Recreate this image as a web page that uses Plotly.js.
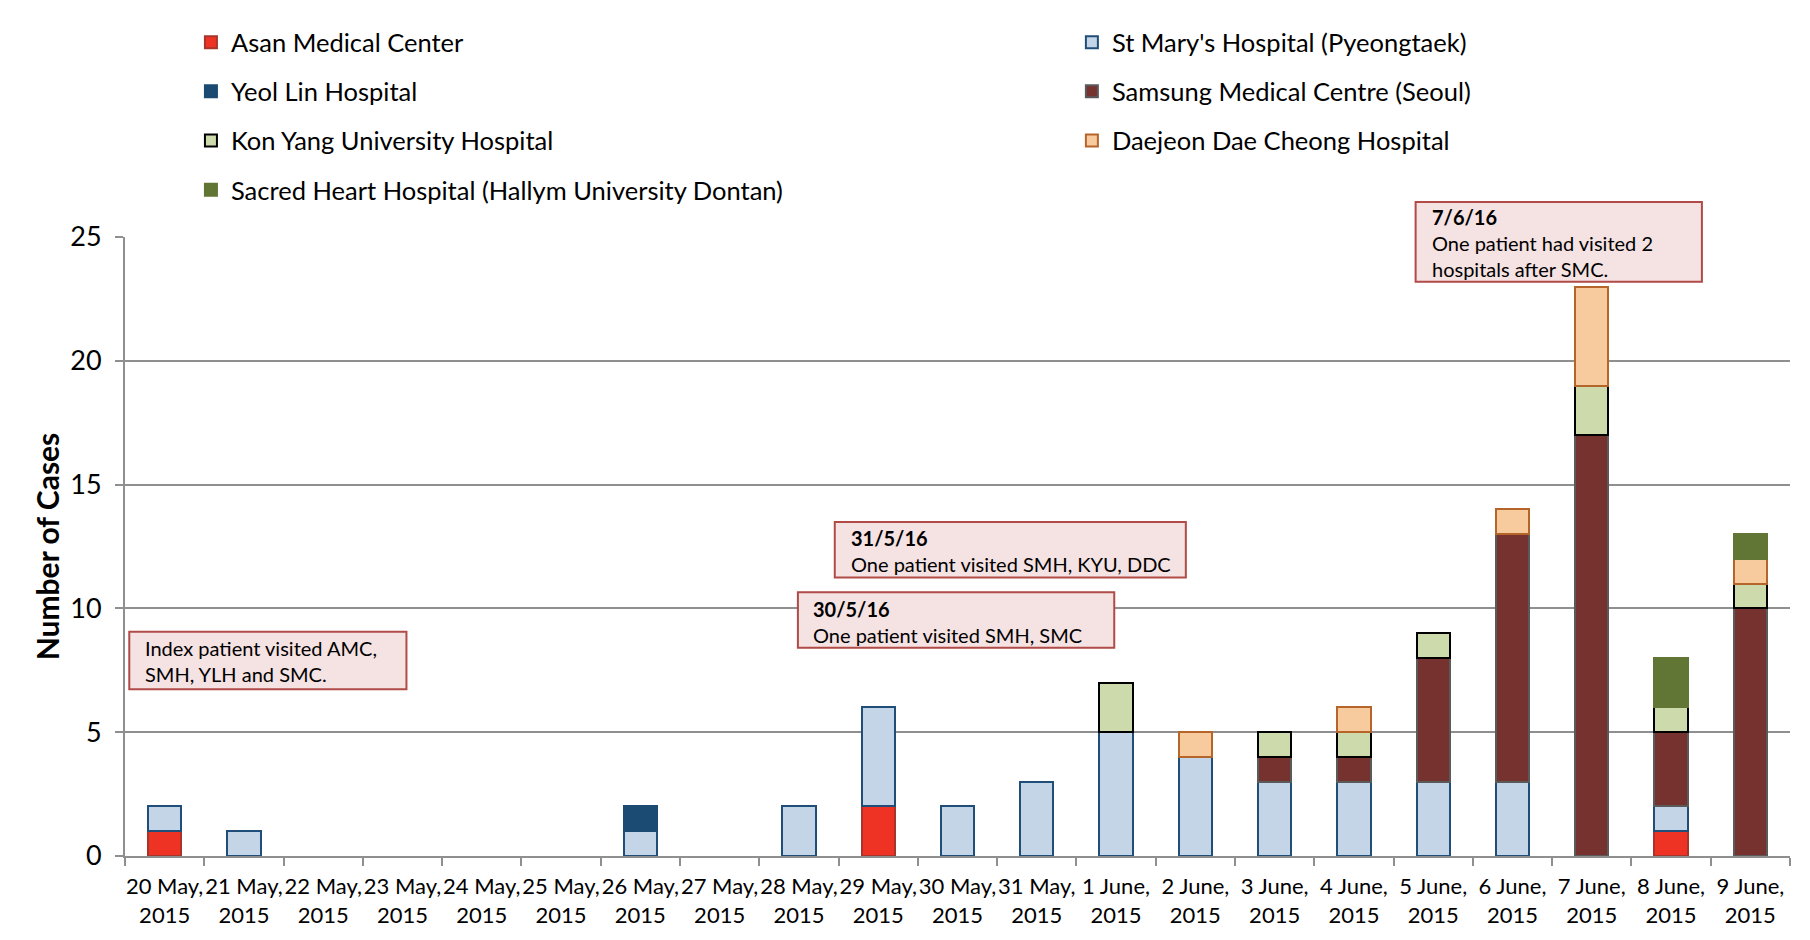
<!DOCTYPE html>
<html>
<head>
<meta charset="utf-8">
<script src="https://cdn.plot.ly/plotly-3.0.1.min.js"></script>
<style>html,body{margin:0;padding:0;background:#fff;}#chart{width:1810px;height:940px;}</style>
</head>
<body>
<div id="chart"></div>
<script>
const dates = ["20 May","21 May","22 May","23 May","24 May","25 May","26 May","27 May","28 May","29 May","30 May","31 May","1 June","2 June","3 June","4 June","5 June","6 June","7 June","8 June","9 June"];
const tickLabels = ["20 May,<br>2015","21 May,<br>2015","22 May,<br>2015","23 May,<br>2015","24 May,<br>2015","25 May,<br>2015","26 May,<br>2015","27 May,<br>2015","28 May,<br>2015","29 May,<br>2015","30 May,<br>2015","31 May,<br>2015","1 June,<br>2015","2 June,<br>2015","3 June,<br>2015","4 June,<br>2015","5 June,<br>2015","6 June,<br>2015","7 June,<br>2015","8 June,<br>2015","9 June,<br>2015"];

const asan      = [1,0,0,0,0,0,0,0,0,2,0,0,0,0,0,0,0,0,0,1,0];
const stMarys   = [1,1,0,0,0,0,1,0,2,4,2,3,5,4,3,3,3,3,0,1,0];
const yeolLin   = [0,0,0,0,0,0,1,0,0,0,0,0,0,0,0,0,0,0,0,0,0];
const samsung   = [0,0,0,0,0,0,0,0,0,0,0,0,0,0,1,1,5,10,17,3,10];
const konYang   = [0,0,0,0,0,0,0,0,0,0,0,0,2,0,1,1,1,0,2,1,1];
const daejeon   = [0,0,0,0,0,0,0,0,0,0,0,0,0,1,0,1,0,1,4,0,1];
const sacred    = [0,0,0,0,0,0,0,0,0,0,0,0,0,0,0,0,0,0,0,2,1];

const seriesNames = ["Asan Medical Center","St Mary's Hospital (Pyeongtaek)","Yeol Lin Hospital","Samsung Medical Centre (Seoul)","Kon Yang University Hospital","Daejeon Dae Cheong Hospital","Sacred Heart Hospital (Hallym University Dontan)"];
const seriesValues = [asan, stMarys, yeolLin, samsung, konYang, daejeon, sacred];
const fills = ["#EE3224","#C5D5E8","#1B4A72","#76322F","#CDDAAC","#F8CB9F","#617535"];
const lines = ["#A8352C","#1F4E79","#1B4A72","#5A5A5A","#000000","#B5652A","#617535"];
const legendOf = ["legend","legend2","legend","legend2","legend","legend2","legend"];

const noteTexts = [
  "Index patient visited AMC,<br>SMH, YLH and SMC.",
  "<b>30/5/16</b><br>One patient visited SMH, SMC",
  "<b>31/5/16</b><br>One patient visited SMH, KYU, DDC",
  "<b>7/6/16</b><br>One patient had visited 2<br>hospitals after SMC."
];

const traces = seriesValues.map((vals, i) => ({
  type: "bar",
  name: seriesNames[i],
  x: dates,
  y: vals.map(v => v === 0 ? null : v),
  marker: {color: fills[i], line: {color: lines[i], width: 2}},
  legend: legendOf[i],
  legendgroup: "g" + i,
  hoverinfo: "name+y"
}));

const FONT = "Lato, 'Open Sans', sans-serif";

// note boxes: x in category-index space, y as fraction of the plot height
const boxes = [
  {x0: -0.446, x1: 3.050, y0: 0.2692, y1: 0.3624, tx: -0.257, ty: 0.3572},
  {x0: 7.987, x1: 11.977, y0: 0.3364, y1: 0.4260, tx: 8.162, ty: 0.4208},
  {x0: 8.452, x1: 12.880, y0: 0.4500, y1: 0.5396, tx: 8.642, ty: 0.5344},
  {x0: 15.778, x1: 19.389, y0: 0.9276, y1: 1.0564, tx: 15.967, ty: 1.0532}
];

const shapes = boxes.map(b => ({
  type: "rect", xref: "x", yref: "paper", x0: b.x0, x1: b.x1, y0: b.y0, y1: b.y1,
  fillcolor: "#F5E2E2", line: {color: "#B04B47", width: 2}, layer: "above"
}));

const annotations = boxes.map((b, i) => ({
  xref: "x", yref: "paper", x: b.tx, y: b.ty, xanchor: "left", yanchor: "top", align: "left",
  showarrow: false, text: noteTexts[i], borderpad: 0,
  font: {family: FONT, size: 20, color: "#000"}
}));

const layout = {
  width: 1810, height: 940,
  margin: {l: 125, r: 20, t: 237, b: 84},
  paper_bgcolor: "#fff", plot_bgcolor: "#fff",
  font: {family: FONT, color: "#000"},
  barmode: "stack",
  bargap: 0.58,
  showlegend: true,
  legend: {x: 0.0396, y: 1.352, xanchor: "left", yanchor: "top", orientation: "v",
           font: {family: FONT, size: 25.5, color: "#000"}, tracegroupgap: 13, bgcolor: "rgba(0,0,0,0)"},
  legend2: {x: 0.5687, y: 1.352, xanchor: "left", yanchor: "top", orientation: "v",
           font: {family: FONT, size: 25.5, color: "#000"}, tracegroupgap: 13, bgcolor: "rgba(0,0,0,0)"},
  xaxis: {
    type: "category", tickmode: "array", tickvals: dates, ticktext: tickLabels, tickangle: 0,
    tickfont: {family: FONT, size: 22, color: "#000"},
    ticks: "outside", tickson: "boundaries", ticklen: 8, tickcolor: "#8F8F8F", tickwidth: 2,
    ticklabelstandoff: 10,
    showline: true, linecolor: "#8F8F8F", linewidth: 2, showgrid: false, zeroline: false,
    range: [-0.5, 20.5]
  },
  yaxis: {
    range: [0, 25], tickvals: [0,5,10,15,20,25], ticktext: ["0","5","10","15","20","25"],
    tickfont: {family: FONT, size: 27, color: "#000"},
    ticks: "outside", ticklen: 8, tickcolor: "#8F8F8F", tickwidth: 2,
    ticklabelstandoff: 8,
    showline: true, linecolor: "#8F8F8F", linewidth: 2,
    showgrid: true, gridcolor: "#8F8F8F", gridwidth: 2, zeroline: false,
    title: {text: "<b>Number of Cases</b>", font: {family: FONT, size: 30, color: "#000"}, standoff: 2}
  },
  shapes: shapes,
  annotations: annotations
};

Plotly.newPlot("chart", traces, layout, {displayModeBar: false, responsive: false});
</script>
</body>
</html>
